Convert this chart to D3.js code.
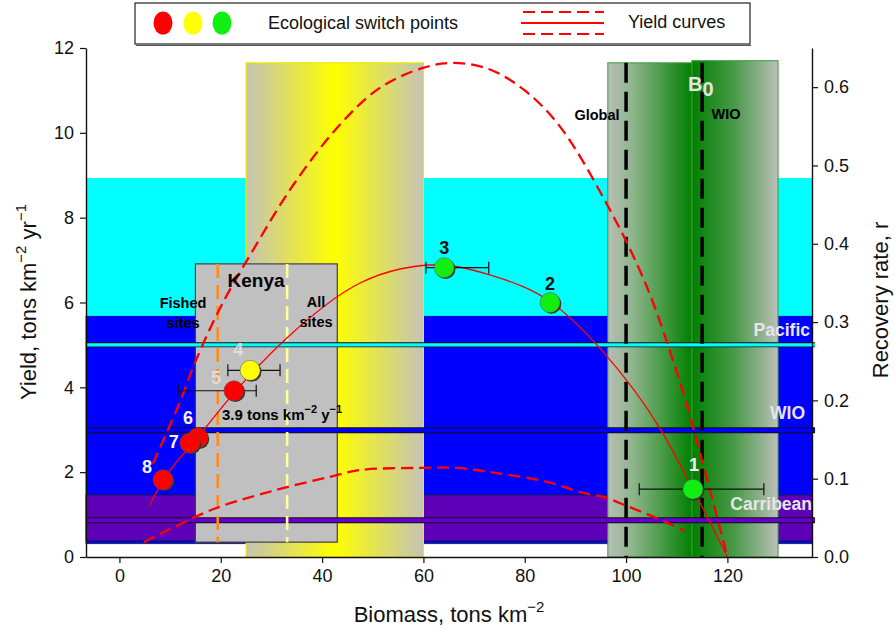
<!DOCTYPE html>
<html><head><meta charset="utf-8">
<script src="https://cdn.jsdelivr.net/npm/d3@7"></script>
<style>
body{margin:0;background:#fff;}
svg{display:block;font-family:"Liberation Sans",Arial,sans-serif;}
</style></head>
<body><svg id="c" width="895" height="631"></svg>
<script>
// ---------- data ----------
const xTicks = [0, 20, 40, 60, 80, 100, 120];
const yTicks = [0, 2, 4, 6, 8, 10, 12];
const rTicks = [0.0, 0.1, 0.2, 0.3, 0.4, 0.5, 0.6];

// recovery-rate bands (right axis units)
const bandNames = ["Pacific", "WIO", "Carribean"];
const bandLow = [0.308, 0.017, 0.021];
const bandHigh = [0.484, 0.308, 0.079];
const bandMean = [0.271, 0.162, 0.047];

// switch points
const pointIds = ["1", "2", "3", "4", "5", "6", "7", "8"];
const pointBiomass = [113.2, 85.0, 64.1, 25.8, 22.6, 15.5, 13.9, 8.6];
const pointYield = [1.6, 6.0, 6.82, 4.4, 3.92, 2.81, 2.69, 1.82];
const pointClass = ["green", "green", "green", "yellow", "red", "red", "red", "red"];
const errLow = [102.6, null, 60.5, 21.4, 11.6, null, null, null];
const errHigh = [127.2, null, 72.9, 31.7, 27.0, null, null, null];

// yield curves (biomass, yield)
const solidB = [6, 8.6, 15, 22.5, 33.1, 47.5, 55.4, 63, 73.1, 85.4, 95, 107.1, 113.2, 120];
const solidY = [1.23, 1.8, 2.75, 3.85, 5.17, 6.46, 6.79, 6.89, 6.65, 5.99, 4.9, 2.95, 1.6, 0];
const upperB = [6.6, 12.1, 14.9, 20, 26.4, 34.3, 43.5, 51.4, 59.9, 66, 73, 80, 87, 96.3, 104, 110.7, 113.6, 120];
const upperY = [2.2, 3.7, 4.58, 5.9, 7.24, 8.77, 10.19, 11.06, 11.53, 11.65, 11.5, 11.0, 10.14, 8.3, 6.4, 4.1, 2.9, 0];
const lowerB = [4.8, 10, 19, 30, 41.5, 47.5, 59.3, 66.6, 74.5, 84.4, 91, 96.2, 100.2, 106, 111.5];
const lowerY = [0.35, 0.66, 1.15, 1.55, 1.89, 2.05, 2.1, 2.1, 1.98, 1.77, 1.53, 1.39, 1.2, 0.92, 0.62];

// shaded boxes (biomass ranges, yield tops)
const yellowBox = [25, 60, 11.65];
const greenLeftBox = [96.4, 113, 11.65];
const greenRightBox = [113, 130, 11.7];
const kenyaBox = [15, 43, 0.35, 6.91];
const kenyaFished = 19.4;
const kenyaAll = 33.1;
const b0Global = 100;
const b0WIO = 115;

// ---------- layout ----------
const svg = d3.select("#c");
const L = 86, R = 812, T = 48, B = 557;
const x = d3.scaleLinear().domain([-6.6, 136.7]).range([L, R]);
const y = d3.scaleLinear().domain([0, 12]).range([B, T]);
const yr = d3.scaleLinear().domain([0, 0.65]).range([B, T]);

const defs = svg.append("defs");
function grad(id, stops) {
  const g = defs.append("linearGradient").attr("id", id).attr("x1", "0").attr("x2", "1").attr("y1", "0").attr("y2", "0");
  stops.forEach(s => g.append("stop").attr("offset", s[0]).attr("stop-color", s[1]));
}
grad("gy", [[0, "#c4c3b6"], [0.5, "#ffff00"], [1, "#c4c3b6"]]);
grad("gl", [[0, "#b8bdb6"], [0.3, "#8db58b"], [1, "#008000"]]);
grad("gr", [[0, "#008000"], [0.5, "#4a9a4a"], [1, "#bcc0ba"]]);

const bandFill = ["#00ffff", "#0000ff", "#5e00b8"];
const bandLine = ["#00ffff", "#0000ff", "#6600cc"];
[1, 2, 0].forEach(i => {
  svg.append("rect").attr("x", L).attr("width", R - L)
    .attr("y", yr(bandHigh[i])).attr("height", yr(bandLow[i]) - yr(bandHigh[i]))
    .attr("fill", bandFill[i]).attr("stroke", i === 0 ? "none" : "#222").attr("stroke-width", 0.8);
});

// yellow box
svg.append("rect").attr("x", x(yellowBox[0])).attr("width", x(yellowBox[1]) - x(yellowBox[0]))
  .attr("y", y(yellowBox[2])).attr("height", B - y(yellowBox[2]))
  .attr("fill", "url(#gy)").attr("stroke", "#f0e800").attr("stroke-width", 1.2);
// green boxes
svg.append("rect").attr("x", x(greenLeftBox[0])).attr("width", x(greenLeftBox[1]) - x(greenLeftBox[0]))
  .attr("y", y(greenLeftBox[2])).attr("height", B - y(greenLeftBox[2]))
  .attr("fill", "url(#gl)").attr("stroke", "#3a9a3a").attr("stroke-width", 1);
svg.append("rect").attr("x", x(greenRightBox[0])).attr("width", x(greenRightBox[1]) - x(greenRightBox[0]))
  .attr("y", y(greenRightBox[2])).attr("height", B - y(greenRightBox[2]))
  .attr("fill", "url(#gr)").attr("stroke", "#3a9a3a").attr("stroke-width", 1);

// Kenya box
svg.append("rect").attr("x", x(kenyaBox[0])).attr("width", x(kenyaBox[1]) - x(kenyaBox[0]))
  .attr("y", y(kenyaBox[3])).attr("height", y(kenyaBox[2]) - y(kenyaBox[3]))
  .attr("fill", "#c0c0c0").attr("stroke", "#404040").attr("stroke-width", 1.2);

// mean recovery lines
[0, 1, 2].forEach(i => {
  svg.append("line").attr("x1", L).attr("x2", R + 3).attr("y1", yr(bandMean[i])).attr("y2", yr(bandMean[i]))
    .attr("stroke", "#111").attr("stroke-width", i === 0 ? 5 : 6);
  svg.append("line").attr("x1", L).attr("x2", R + 3).attr("y1", yr(bandMean[i])).attr("y2", yr(bandMean[i]))
    .attr("stroke", bandLine[i]).attr("stroke-width", i === 0 ? 3.2 : 4);
});

// Kenya dashed lines
svg.append("line").attr("x1", x(kenyaFished)).attr("x2", x(kenyaFished)).attr("y1", y(kenyaBox[3])).attr("y2", y(kenyaBox[2]))
  .attr("stroke", "#ff8c1a").attr("stroke-width", 2.6).attr("stroke-dasharray", "14,7");
svg.append("line").attr("x1", x(kenyaAll)).attr("x2", x(kenyaAll)).attr("y1", y(kenyaBox[3])).attr("y2", y(kenyaBox[2]))
  .attr("stroke", "#ffff99").attr("stroke-width", 2.6).attr("stroke-dasharray", "14,7");

// B0 dashed
[b0Global, b0WIO].forEach(v => {
  svg.append("line").attr("x1", x(v)).attr("x2", x(v)).attr("y1", y(11.65)).attr("y2", B)
    .attr("stroke", "#000").attr("stroke-width", 3.5).attr("stroke-dasharray", "20,9");
});

// curves
const lineC = d3.line().x(d => x(d[0])).y(d => y(d[1])).curve(d3.curveCatmullRom.alpha(0.5));
const lineM = d3.line().x(d => x(d[0])).y(d => y(d[1])).curve(d3.curveMonotoneX);
svg.append("path").attr("d", lineC(upperB.map((b, i) => [b, upperY[i]])))
  .attr("fill", "none").attr("stroke", "#ff0000").attr("stroke-width", 2.3).attr("stroke-dasharray", "12,6");
svg.append("path").attr("d", lineC(lowerB.map((b, i) => [b, lowerY[i]])))
  .attr("fill", "none").attr("stroke", "#ff0000").attr("stroke-width", 2.3).attr("stroke-dasharray", "12,6");
svg.append("path").attr("d", lineM(solidB.map((b, i) => [b, solidY[i]])))
  .attr("fill", "none").attr("stroke", "#ff0000").attr("stroke-width", 1.3);

// error bars
pointIds.forEach((id, i) => {
  if (errLow[i] == null) return;
  const yy = y(pointYield[i]);
  const g = svg.append("g").attr("stroke", "#111").attr("stroke-width", 1.2);
  g.append("line").attr("x1", x(errLow[i])).attr("x2", x(errHigh[i])).attr("y1", yy).attr("y2", yy);
  g.append("line").attr("x1", x(errLow[i])).attr("x2", x(errLow[i])).attr("y1", yy - 6).attr("y2", yy + 6);
  g.append("line").attr("x1", x(errHigh[i])).attr("x2", x(errHigh[i])).attr("y1", yy - 6).attr("y2", yy + 6);
});

// points
const classColor = {green: "#11ee11", yellow: "#ffff00", red: "#ff0000"};
pointIds.forEach((id, i) => {
  const cx = x(pointBiomass[i]), cy = y(pointYield[i]);
  svg.append("circle").attr("cx", cx + 1.3).attr("cy", cy + 1.3).attr("r", 10).attr("fill", "#333");
  svg.append("circle").attr("cx", cx).attr("cy", cy).attr("r", 10)
    .attr("fill", classColor[pointClass[i]]).attr("stroke", "#555").attr("stroke-width", 0.5);
});
// point labels
const labelDx = [1, 0, 0, -12, -18, -10, -16, -16];
const labelDy = [-24, -19, -20, -20, -13, -20, -1, -13];
const labelColor = ["#f4f4f4", "#111", "#111", "#dcdcdc", "#dcdcdc", "#f4f4f4", "#f4f4f4", "#f4f4f4"];
pointIds.forEach((id, i) => {
  svg.append("text").attr("x", x(pointBiomass[i]) + labelDx[i]).attr("y", y(pointYield[i]) + labelDy[i])
    .attr("text-anchor", "middle").attr("dominant-baseline", "central")
    .attr("font-size", 18).attr("font-weight", "bold").attr("fill", labelColor[i]).text(id);
});

// annotations
function txt(tx, ty, s, size, color, anchor) {
  return svg.append("text").attr("x", tx).attr("y", ty).attr("font-size", size).attr("font-weight", "bold")
    .attr("fill", color).attr("text-anchor", anchor || "middle").attr("dominant-baseline", "central").text(s);
}
txt(256, 280, "Kenya", 19, "#000");
txt(183, 303, "Fished", 14.5, "#000");
txt(183, 323, "sites", 14.5, "#000");
txt(316, 302, "All", 14.5, "#000");
txt(316, 322, "sites", 14.5, "#000");
const t39 = svg.append("text").attr("x", 222).attr("y", 414).attr("font-size", 15).attr("font-weight", "bold")
  .attr("dominant-baseline", "central").attr("fill", "#000");
t39.append("tspan").text("3.9 tons km");
t39.append("tspan").attr("dy", -5).attr("font-size", 11).text("−2");
t39.append("tspan").attr("dy", 5).text(" y");
t39.append("tspan").attr("dy", -5).attr("font-size", 11).text("−1");

txt(810, yr(bandMean[0]) - 15, bandNames[0], 17.5, "#e6e6e6", "end");
txt(805, yr(bandMean[1]) - 17, bandNames[1], 17.5, "#e6e6e6", "end");
txt(812, yr(bandMean[2]) - 16, bandNames[2], 17.5, "#e6e6e6", "end");
txt(597, 115, "Global", 14.5, "#000");
txt(726, 114, "WIO", 14.5, "#000");
const b0 = svg.append("text").attr("x", 688).attr("y", 84).attr("font-size", 20).attr("font-weight", "bold")
  .attr("dominant-baseline", "central").attr("fill", "#e4e4e4");
b0.append("tspan").text("B");
b0.append("tspan").attr("dy", 5).text("0");

// axes
const fs = 18;
const ax = svg.append("g").attr("transform", `translate(0,${B})`)
  .call(d3.axisBottom(x).tickValues(xTicks).tickSize(6).tickPadding(6).tickSizeOuter(0));
const ay = svg.append("g").attr("transform", `translate(${L},0)`)
  .call(d3.axisLeft(y).tickValues(yTicks).tickSize(6).tickPadding(6).tickSizeOuter(0));
const ar = svg.append("g").attr("transform", `translate(${R},0)`)
  .call(d3.axisRight(yr).tickValues(rTicks).tickFormat(d3.format(".1f")).tickSize(6).tickPadding(6).tickSizeOuter(0));
[ax, ay, ar].forEach(a => {
  a.selectAll("text").attr("font-size", fs).attr("font-family", '"Liberation Sans",Arial,sans-serif').attr("fill", "#111");
  a.selectAll("line").attr("stroke", "#111").attr("stroke-width", 1.2);
  a.select(".domain").attr("stroke", "#111").attr("stroke-width", 1.4);
});

// axis titles
const xt = svg.append("text").attr("x", 449).attr("y", 614).attr("text-anchor", "middle").attr("font-size", 22)
  .attr("dominant-baseline", "central").attr("fill", "#111");
xt.append("tspan").text("Biomass, tons km");
xt.append("tspan").attr("dy", -8).attr("font-size", 15).text("−2");
const yt = svg.append("text").attr("transform", "translate(28,302) rotate(-90)").attr("text-anchor", "middle")
  .attr("font-size", 22).attr("dominant-baseline", "central").attr("fill", "#111");
yt.append("tspan").text("Yield, tons km");
yt.append("tspan").attr("dy", -8).attr("font-size", 15).text("−2");
yt.append("tspan").attr("dy", 8).text(" yr");
yt.append("tspan").attr("dy", -8).attr("font-size", 15).text("−1");
svg.append("text").attr("transform", "translate(880,300) rotate(-90)").attr("text-anchor", "middle")
  .attr("font-size", 22).attr("dominant-baseline", "central").attr("fill", "#111").text("Recovery rate, r");

// legend
const lg = svg.append("g");
lg.append("rect").attr("x", 135).attr("y", 3).attr("width", 615).attr("height", 41)
  .attr("fill", "#fff").attr("stroke", "#222").attr("stroke-width", 1.2);
lg.append("line").attr("x1", 136).attr("x2", 751).attr("y1", 45.5).attr("y2", 45.5).attr("stroke", "#555").attr("stroke-width", 1.2);
[["red", 163], ["yellow", 193], ["green", 222]].forEach(d => {
  lg.append("ellipse").attr("cx", d[1]).attr("cy", 23).attr("rx", 9.5).attr("ry", 11.5).attr("fill", classColor[d[0]]);
});
lg.append("text").attr("x", 268).attr("y", 23).attr("font-size", 18).attr("dominant-baseline", "central").attr("fill", "#111").text("Ecological switch points");
lg.append("line").attr("x1", 523).attr("x2", 604).attr("y1", 12).attr("y2", 12).attr("stroke", "#f00").attr("stroke-width", 2).attr("stroke-dasharray", "12,6");
lg.append("line").attr("x1", 521).attr("x2", 604).attr("y1", 23).attr("y2", 23).attr("stroke", "#f00").attr("stroke-width", 2);
lg.append("line").attr("x1", 523).attr("x2", 604).attr("y1", 34).attr("y2", 34).attr("stroke", "#f00").attr("stroke-width", 2).attr("stroke-dasharray", "12,6");
lg.append("text").attr("x", 628).attr("y", 22).attr("font-size", 18).attr("dominant-baseline", "central").attr("fill", "#111").text("Yield curves");
</script></body></html>
